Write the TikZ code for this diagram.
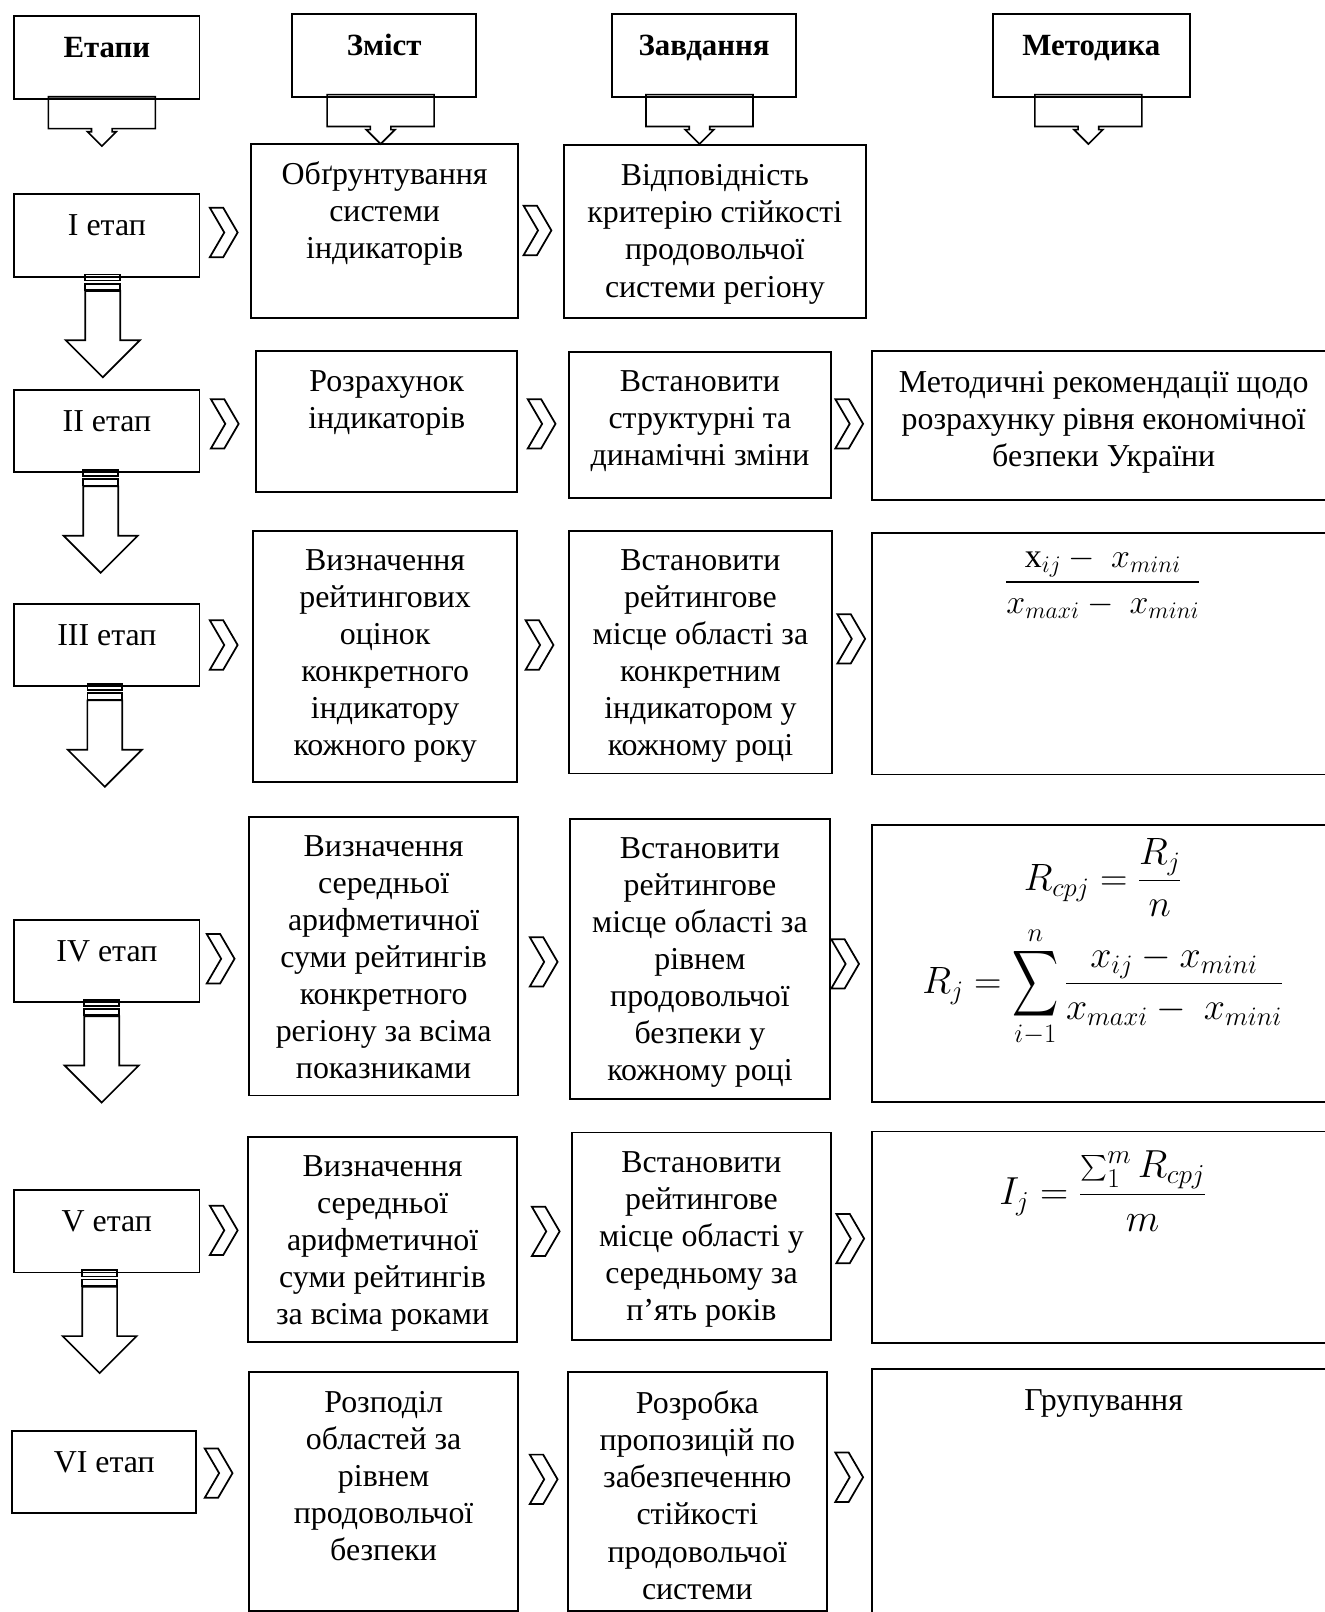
\RequirePackage{fix-cm}
\documentclass[tikz,border=0pt]{standalone}
\usepackage{amsmath}
\usepackage{graphicx}
\usepackage{fontspec}
\setmainfont{Liberation Serif}
\usetikzlibrary{positioning}

\tikzset{
  box/.style={draw, line width=1.8pt, inner sep=0pt, anchor=north west},
  txt/.style={align=center, inner sep=0pt, font=\fontsize{31}{36}\selectfont,
    execute at begin node={\rule{0pt}{25pt}}},
  hdr/.style={txt, font=\bfseries\fontsize{30}{36}\selectfont},
  frm/.style={inner sep=0pt, font=\fontsize{30}{36}\selectfont},
  chev/.pic={\draw[line width=1.7pt] (-14,-24) -- (-1,-24) -- (13,0) -- (-1,24) -- (-14,24) -- (0,0) -- cycle;},
  callout/.pic={\draw[line width=1.6pt] (-52,0) -- (52,0) -- (52,31) -- (10,31) -- (10,34) -- (14,34)
    -- (0,48) -- (-14,34) -- (-10,34) -- (-10,31) -- (-52,31) -- cycle;},
  down/.pic={\draw[line width=1.6pt] (-17,-3) rectangle (17,3) (-17,6) rectangle (17,12);
    \draw[line width=1.6pt] (-17,13) -- (-17,61) -- (-36,61) -- (0,97) -- (36,61) -- (17,61) -- (17,13) -- cycle;}
}

\begin{document}
\begin{tikzpicture}[x=1pt, y=-1pt]
    \clip (0,0) rectangle (1288,1567);

    % headers
    \node[box, minimum width=180pt, minimum height=80pt] (h1) at (13,15) {};
    \node[box, minimum width=179pt, minimum height=80pt] (h2) at (283,13) {};
    \node[box, minimum width=179pt, minimum height=80pt] (h3) at (594,13) {};
    \node[box, minimum width=192pt, minimum height=80pt] (h4) at (964,13) {};
    \node[hdr, below=16pt of h1.north] (h1t) {Етапи};
    \node[hdr, below=16pt of h2.north] (h2t) {Зміст};
    \node[hdr, below=16pt of h3.north] (h3t) {Завдання};
    \node[hdr, below=16pt of h4.north] (h4t) {Методика};
    \pic at (99,94) {callout};
    \pic at (370,92) {callout};
    \pic at (680,92) {callout};
    \pic at (1058,92) {callout};

    % stages
    \node[box, minimum width=180pt, minimum height=80pt] (s1) at (13,188) {};
    \node[box, minimum width=180pt, minimum height=80pt] (s2) at (13,378) {};
    \node[box, minimum width=180pt, minimum height=80pt] (s3) at (13,586) {};
    \node[box, minimum width=180pt, minimum height=80pt] (s4) at (13,893) {};
    \node[box, minimum width=180pt, minimum height=80pt] (s5) at (13,1156) {};
    \node[box, minimum width=179pt, minimum height=80pt] (s6) at (11,1390) {};
    \node[txt, below=16pt of s1.north] (s1t) {I етап};
    \node[txt, below=16pt of s2.north] (s2t) {II етап};
    \node[txt, below=16pt of s3.north] (s3t) {III етап};
    \node[txt, below=16pt of s4.north] (s4t) {IV етап};
    \node[txt, below=16pt of s5.north] (s5t) {V етап};
    \node[txt, below=16pt of s6.north] (s6t) {VI етап};
    \pic at ([xshift=-4pt]s1.south) {down};
    \pic at ([xshift=-6pt]s2.south) {down};
    \pic at ([xshift=-2pt]s3.south) {down};
    \pic at ([xshift=-5pt]s4.south) {down};
    \pic at ([xshift=-7pt]s5.south) {down};

    % content
    \node[box, minimum width=260pt, minimum height=169pt] (z1) at (243,139) {};
    \node[box, minimum width=254pt, minimum height=137pt] (z2) at (248,340) {};
    \node[box, minimum width=257pt, minimum height=244pt] (z3) at (245,515) {};
    \node[box, minimum width=262pt, minimum height=271pt] (z4) at (241,793) {};
    \node[box, minimum width=262pt, minimum height=200pt] (z5) at (240,1104) {};
    \node[box, minimum width=262pt, minimum height=232pt] (z6) at (241,1333) {};
    \node[txt, below=18pt of z1.north] (z1t) {Обґрунтування\\системи\\індикаторів};
    \node[txt, below=20pt of z2.north] (z2t) {Розрахунок\\індикаторів};
    \node[txt, below=19pt of z3.north] (z3t) {Визначення\\рейтингових\\оцінок\\конкретного\\індикатору\\кожного року};
    \node[txt, below=19pt of z4.north] (z4t) {Визначення\\середньої\\арифметичної\\суми рейтингів\\конкретного\\регіону за всіма\\показниками};
    \node[txt, below=19pt of z5.north] (z5t) {Визначення\\середньої\\арифметичної\\суми рейтингів\\за всіма роками};
    \node[txt, below=19pt of z6.north] (z6t) {Розподіл\\областей за\\рівнем\\продовольчої\\безпеки};

    % tasks
    \node[box, minimum width=294pt, minimum height=168pt] (t1) at (547,140) {};
    \node[box, minimum width=255pt, minimum height=142pt] (t2) at (552,341) {};
    \node[box, minimum width=256pt, minimum height=236pt] (t3) at (552,515) {};
    \node[box, minimum width=253pt, minimum height=272pt] (t4) at (553,795) {};
    \node[box, minimum width=252pt, minimum height=202pt] (t5) at (555,1100) {};
    \node[box, minimum width=252pt, minimum height=232pt] (t6) at (551,1333) {};
    \node[txt, below=20pt of t1.north] (t1t) {Відповідність\\критерію стійкості\\продовольчої\\системи регіону};
    \node[txt, below=19pt of t2.north] (t2t) {Встановити\\структурні та\\динамічні зміни};
    \node[txt, below=19pt of t3.north] (t3t) {Встановити\\рейтингове\\місце області за\\конкретним\\індикатором у\\кожному році};
    \node[txt, below=19pt of t4.north] (t4t) {Встановити\\рейтингове\\місце області за\\рівнем\\продовольчої\\безпеки у\\кожному році};
    \node[txt, below=19pt of t5.north] (t5t) {Встановити\\рейтингове\\місце області у\\середньому за\\п’ять років};
    \node[txt, below=19pt of t6.north] (t6t) {Розробка\\пропозицій по\\забезпеченню\\стійкості\\продовольчої\\системи};

    % methods
    \node[box, minimum width=450pt, minimum height=145pt] (m2) at (847,340) {};
    \node[box, minimum width=450pt, minimum height=235pt] (m3) at (847,517) {};
    \node[box, minimum width=450pt, minimum height=269pt] (m4) at (847,801) {};
    \node[box, minimum width=450pt, minimum height=206pt] (m5) at (847,1099) {};
    \node[box, minimum width=450pt, minimum height=300pt] (m6) at (847,1330) {};
    \node[txt, below=21pt of m2.north] (m2t) {Методичні рекомендації щодо\\розрахунку рівня економічної\\безпеки України};
    \node[frm, font=\fontsize{33}{40}\selectfont] (m3f) at (1072,567)
      {$\dfrac{\mathrm{x}_{ij}-\ x_{mini}}{x_{maxi}-\ x_{mini}}$};
    \node[frm, font=\fontsize{37}{44}\selectfont] (m4a) at (1072,853) {$R_{cpj}=\dfrac{R_j}{n}$};
    \node[frm, font=\fontsize{37}{44}\selectfont] (m4b) at (1072,960)
      {$\displaystyle R_j=\mathop{\vcenter{\hbox{\scalebox{1.25}[1.8]{$\displaystyle\sum$}}}}\limits_{i-1}^{n}\frac{x_{ij}-x_{mini}}{x_{maxi}-\ x_{mini}}$};
    \node[frm, font=\fontsize{38}{44}\selectfont] (m5f) at (1072,1158) {$I_j=\dfrac{\sum_1^m R_{cpj}}{m}$};
    \node[txt, below=16pt of m6.north] (m6t) {Групування};

    % chevrons
    \pic at (218,226) {chev};
    \pic at (219,412) {chev};
    \pic at (218,627) {chev};
    \pic at (215,932) {chev};
    \pic at (218,1196) {chev};
    \pic at (213,1432) {chev};
    \pic at (523,224) {chev};
    \pic at (527,412) {chev};
    \pic at (525,627) {chev};
    \pic at (529,935) {chev};
    \pic at (531,1197) {chev};
    \pic at (529,1438) {chev};
    \pic at (826,412) {chev};
    \pic at (828,621) {chev};
    \pic at (822,937) {chev};
    \pic at (827,1204) {chev};
    \pic at (826,1436) {chev};
\end{tikzpicture}
\end{document}
